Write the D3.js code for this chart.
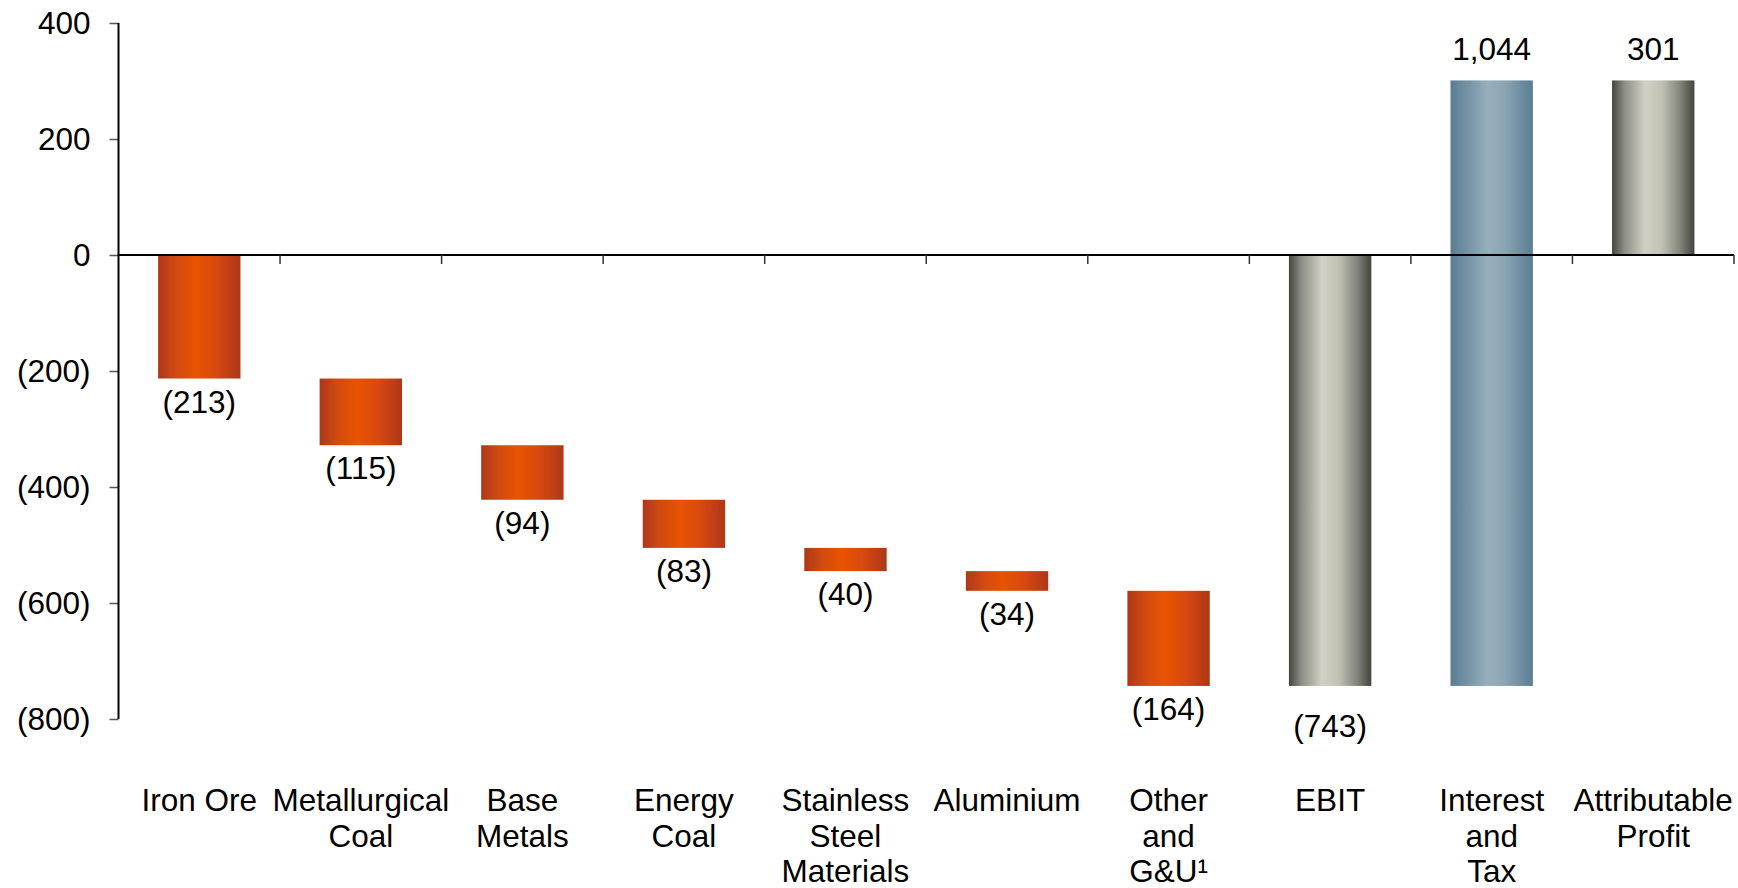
<!DOCTYPE html>
<html>
<head>
<meta charset="utf-8">
<script src="https://cdn.jsdelivr.net/npm/d3@7"></script>
<style>
  html, body { margin: 0; padding: 0; background: #fff; }
  text { font-family: "Liberation Sans", Arial, sans-serif; fill: #000; }
</style>
</head>
<body>
<div id="chart"></div>
<script>
const categories = [
    ["Iron Ore"],
    ["Metallurgical", "Coal"],
    ["Base", "Metals"],
    ["Energy", "Coal"],
    ["Stainless", "Steel", "Materials"],
    ["Aluminium"],
    ["Other", "and", "G&U\u00b9"],
    ["EBIT"],
    ["Interest", "and", "Tax"],
    ["Attributable", "Profit"]
];
const values = [-213, -115, -94, -83, -40, -34, -164, -743, 1044, 301];
// "step" bars float on the running total, "total" bars start at zero
const barKinds = ["step", "step", "step", "step", "step", "step", "step", "total", "step", "total"];
const barColours = ["orange", "orange", "orange", "orange", "orange", "orange", "orange", "grey", "blue", "grey"];
const yTicks = [400, 200, 0, -200, -400, -600, -800];

const width = 1738;
const height = 888;
const margin = { top: 23, right: 4, bottom: 169, left: 118.5 };
const innerW = width - margin.left - margin.right;
const innerH = height - margin.top - margin.bottom;

const svg = d3.select('#chart')
    .append('svg')
    .attr('width', width)
    .attr('height', height);

// gradients for the cylinder look
const defs = svg.append('defs');
const gradients = {
    orange: [[0, '#ae3719'], [0.2, '#cf4a12'], [0.45, '#e85400'], [0.7, '#d9490f'], [1, '#ae3719']],
    grey: [[0, '#43453e'], [0.15, '#8d8e84'], [0.4, '#d0d0c4'], [0.6, '#c2c2b4'], [0.82, '#85867c'], [1, '#43453e']],
    blue: [[0, '#5a7d92'], [0.2, '#7492a4'], [0.45, '#95afbc'], [0.65, '#8ca6b4'], [1, '#5a7d92']]
};
Object.entries(gradients).forEach(([name, stops]) => {
    const g = defs.append('linearGradient')
        .attr('id', 'grad-' + name)
        .attr('x1', '0%').attr('x2', '100%')
        .attr('y1', '0%').attr('y2', '0%');
    stops.forEach(s => g.append('stop').attr('offset', s[0]).attr('stop-color', s[1]));
});

const chart = svg.append('g')
    .attr('transform', `translate(${margin.left}, ${margin.top})`);

const names = categories.map(c => c.join(' '));

const x = d3.scaleBand()
    .domain(names)
    .range([0, innerW])
    .padding(0);

const y = d3.scaleLinear()
    .domain([-800, 400])
    .range([innerH, 0]);

// waterfall start/end
let running = 0;
const bars = values.map((v, i) => {
    let start, end;
    if (barKinds[i] === 'total') {
        start = 0;
        end = v;
        running = v;
    } else {
        start = running;
        end = running + v;
        running = end;
    }
    return { name: names[i], value: v, start, end, kind: barKinds[i], colour: barColours[i] };
});

const barW = x.bandwidth() * 0.51;

chart.selectAll('.bar')
    .data(bars)
    .enter()
    .append('rect')
    .attr('class', 'bar')
    .attr('x', d => x(d.name) + (x.bandwidth() - barW) / 2)
    .attr('y', d => y(Math.max(d.start, d.end)))
    .attr('width', barW)
    .attr('height', d => Math.abs(y(d.start) - y(d.end)))
    .attr('fill', d => `url(#grad-${d.colour})`);

// y axis
const yAxis = chart.append('g')
    .call(d3.axisLeft(y)
        .tickValues(yTicks)
        .tickSize(9)
        .tickPadding(19)
        .tickFormat(d => d < 0 ? `(${-d})` : d));
yAxis.select('.domain').remove();
yAxis.selectAll('.tick line').attr('stroke', '#555').attr('stroke-width', 1.5);
yAxis.selectAll('.tick text')
    .style('font-size', '31.5px')
    .style('font-family', '"Liberation Sans", Arial, sans-serif')
    .attr('fill', '#000');
chart.append('line')
    .attr('x1', 0).attr('x2', 0)
    .attr('y1', y(400)).attr('y2', y(-800))
    .attr('stroke', '#000').attr('stroke-width', 2);

// zero line with category ticks
chart.append('line')
    .attr('x1', 0).attr('x2', innerW)
    .attr('y1', y(0)).attr('y2', y(0))
    .attr('stroke', '#000').attr('stroke-width', 2);
chart.selectAll('.xtick')
    .data(names)
    .enter()
    .append('line')
    .attr('class', 'xtick')
    .attr('x1', d => x(d) + x.bandwidth())
    .attr('x2', d => x(d) + x.bandwidth())
    .attr('y1', y(0))
    .attr('y2', y(0) + 9)
    .attr('stroke', '#333')
    .attr('stroke-width', 1.5);

// value labels
const fmt = d3.format(',');
chart.selectAll('.value-label')
    .data(bars)
    .enter()
    .append('text')
    .attr('class', 'value-label')
    .attr('x', d => x(d.name) + x.bandwidth() / 2)
    .attr('y', d => {
        if (d.value >= 0) return y(Math.max(d.start, d.end)) - 20;
        const bottom = y(Math.min(d.start, d.end));
        return bottom + (d.kind === 'total' ? 51 : 34);
    })
    .attr('text-anchor', 'middle')
    .style('font-size', '31.5px')
    .text(d => d.value < 0 ? `(${fmt(-d.value)})` : fmt(d.value));

// category labels
const catLabels = chart.selectAll('.cat-label')
    .data(categories)
    .enter()
    .append('text')
    .attr('class', 'cat-label')
    .attr('x', (d, i) => x(names[i]) + x.bandwidth() / 2)
    .attr('y', 811 - margin.top)
    .attr('text-anchor', 'middle')
    .style('font-size', '31.5px');
catLabels.selectAll('tspan')
    .data((d, i) => d.map(line => ({ line, cx: x(names[i]) + x.bandwidth() / 2 })))
    .enter()
    .append('tspan')
    .attr('x', d => d.cx)
    .attr('dy', (d, i) => i === 0 ? 0 : 35.5)
    .text(d => d.line);
</script>
</body>
</html>
